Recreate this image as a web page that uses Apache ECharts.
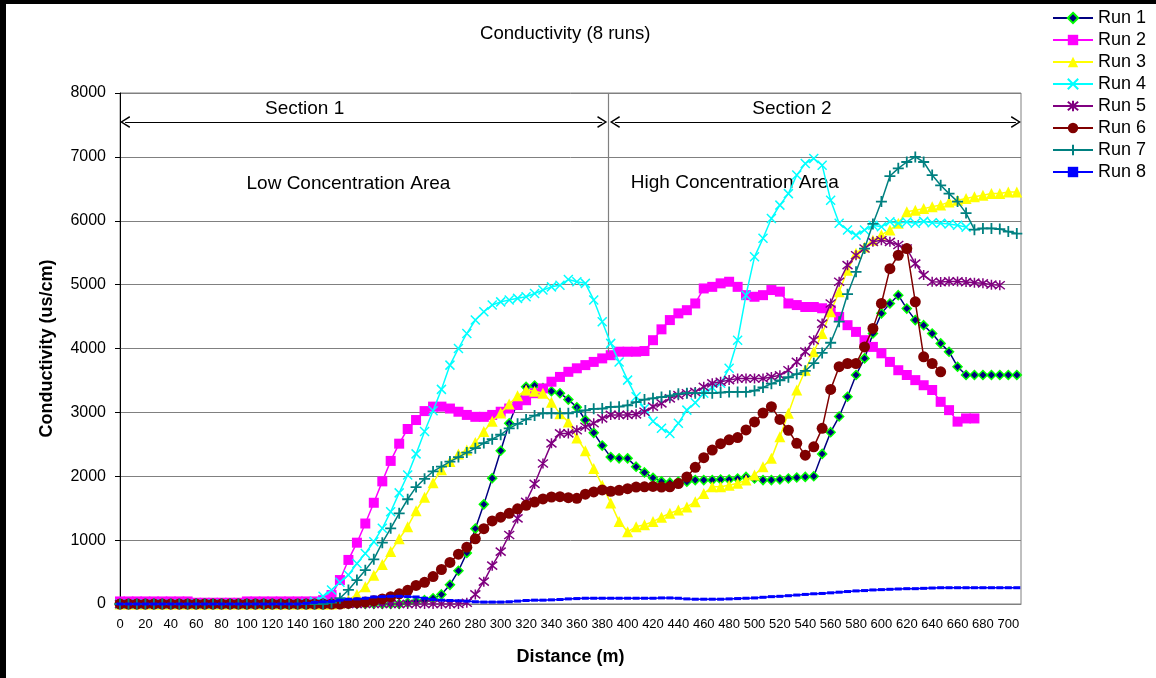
<!DOCTYPE html>
<html>
<head>
<meta charset="utf-8">
<script src="https://cdn.jsdelivr.net/npm/echarts@6/dist/echarts.min.js"></script>
<style>html,body{margin:0;padding:0;background:#fff}#c{width:1156px;height:678px}</style>
</head>
<body>
<div id="c"></div>
<script>
// ---- data ----
const distance = [0,6.7,13.3,20,26.7,33.3,40,46.7,53.3,60,
66.7,73.3,80,86.7,93.3,100,106.7,113.3,120,126.7,
133.3,140,146.7,153.3,160,166.7,173.3,180,186.7,193.3,
200,206.7,213.3,220,226.7,233.3,240,246.7,253.3,260,
266.7,273.3,280,286.7,293.3,300,306.7,313.3,320,326.7,
333.3,340,346.7,353.3,360,366.7,373.3,380,386.7,393.3,
400,406.7,413.3,420,426.7,433.3,440,446.7,453.3,460,
466.7,473.3,480,486.7,493.3,500,506.7,513.3,520,526.7,
533.3,540,546.7,553.3,560,566.7,573.3,580,586.7,593.3,
600,606.7,613.3,620,626.7,633.3,640,646.7,653.3,660,
666.7,673.3,680,686.7,693.3,700,706.7];

const run1 = [0,0,0,0,0,0,0,0,0,0,
0,0,0,0,0,0,0,0,0,0,
0,0,0,0,0,0,0,0,0,0,
0,0,0,0,20,40,60,90,150,300,
520,800,1180,1560,1970,2400,2830,3150,3400,3420,
3380,3330,3300,3200,3080,2880,2680,2480,2300,2280,
2280,2150,2060,1975,1920,1900,1915,1915,1940,1940,
1940,1950,1950,1965,1990,1965,1940,1940,1950,1965,
1980,1990,2000,2350,2690,2935,3245,3585,3845,4235,
4550,4705,4835,4625,4445,4365,4235,4080,3950,3715,
3585,3585,3585,3585,3585,3585,3585];

const run2 = [40,40,40,40,40,40,40,40,40,20,
20,20,20,20,20,40,40,40,40,40,
40,40,40,40,60,140,375,690,960,1260,
1585,1920,2240,2510,2740,2880,3020,3090,3090,3060,
3010,2960,2930,2930,2960,3010,3060,3115,3190,3300,
3375,3480,3555,3635,3690,3740,3790,3845,3895,3950,
3950,3950,3960,4130,4300,4445,4550,4600,4705,4940,
4965,5020,5045,4965,4835,4810,4835,4915,4890,4705,
4680,4650,4650,4630,4600,4495,4365,4260,4130,4025,
3925,3790,3660,3585,3505,3425,3350,3165,3035,2855,
2905,2905,null,null,null,null,null];

const run3 = [0,0,0,0,0,0,0,0,0,0,
0,0,0,0,0,0,0,0,0,0,
0,0,0,0,0,0,10,60,150,270,
450,620,820,1020,1210,1460,1670,1900,2100,2230,
2350,2410,2530,2700,2860,2990,3130,3260,3350,3330,
3300,3160,2980,2850,2600,2400,2120,1860,1580,1290,
1130,1210,1240,1290,1360,1420,1470,1520,1600,1730,
1835,1835,1860,1890,1940,2020,2150,2280,2620,2985,
3350,3660,3950,4235,4575,4890,5225,5490,5590,5695,
5780,5855,5960,6140,6165,6190,6220,6245,6295,6320,
6350,6375,6400,6425,6425,6450,6450];

const run4 = [0,0,0,0,0,0,0,0,0,0,
0,0,0,0,0,0,0,0,0,0,
0,0,10,40,120,220,340,455,635,790,
975,1185,1445,1740,2020,2350,2700,3025,3360,3740,
4000,4235,4445,4575,4680,4730,4760,4785,4810,4860,
4915,4965,4990,5080,5045,5020,4760,4420,4080,3790,
3505,3245,3060,2860,2750,2670,2830,3035,3150,3300,
3390,3455,3690,4130,4835,5435,5725,6035,6245,6425,
6715,6895,6975,6870,6320,5960,5855,5775,5855,5930,
5905,5985,5960,5980,5960,5990,5970,5960,5950,5930,
5900,null,null,null,null,null,null];

const run5 = [0,0,0,0,0,0,0,0,0,0,
0,0,0,0,0,0,0,0,0,0,
0,0,0,0,0,0,0,0,0,0,
0,0,0,0,0,0,0,0,0,0,
0,20,150,350,600,820,1080,1340,1600,1880,
2200,2515,2670,2670,2720,2775,2830,2905,2960,2960,
2960,2970,3010,3090,3140,3220,3270,3300,3320,3400,
3455,3480,3505,3530,3530,3530,3530,3555,3580,3660,
3790,3950,4130,4390,4705,5045,5305,5460,5565,5670,
5695,5670,5620,5565,5330,5150,5045,5040,5050,5050,
5040,5030,5020,5000,4990,null,null];

const run6 = [0,0,0,0,0,0,0,0,0,0,
0,0,0,0,0,0,0,0,0,0,
0,0,0,0,0,0,0,10,20,30,
50,80,115,160,215,290,340,430,540,650,
780,890,1020,1180,1300,1360,1420,1490,1545,1595,
1645,1675,1680,1665,1655,1720,1755,1785,1765,1780,
1805,1830,1835,1840,1830,1835,1885,1990,2140,2290,
2410,2510,2570,2605,2725,2850,2990,3090,2890,2720,
2515,2330,2460,2750,3360,3715,3765,3765,4025,4315,
4705,5250,5460,5565,4730,3870,3765,3635,null,null,
null,null,null,null,null,null,null];

const run7 = [0,0,0,0,0,0,0,0,0,0,
0,0,0,0,0,0,0,0,0,0,
0,0,0,0,0,20,90,220,375,530,
700,960,1185,1420,1640,1830,1960,2075,2150,2230,
2300,2370,2440,2520,2580,2650,2750,2820,2890,2950,
2985,2985,2985,2985,3005,3030,3055,3060,3085,3090,
3110,3160,3200,3220,3240,3260,3290,3300,3300,3300,
3300,3310,3320,3320,3320,3340,3390,3450,3500,3550,
3600,3650,3770,3930,4090,4420,4850,5200,5565,5950,
6300,6700,6820,6920,7000,6920,6715,6555,6425,6300,
6120,5860,5880,5880,5870,5830,5800];

const run8 = [0,0,0,0,0,0,0,0,0,0,
0,0,0,0,0,0,0,0,0,0,
0,0,10,25,35,40,60,75,80,90,
110,115,120,120,115,110,90,70,60,55,
50,45,35,30,30,30,35,45,55,60,
60,65,70,80,85,90,90,90,90,90,
90,90,90,90,95,95,90,80,75,75,
75,75,80,85,90,95,105,115,120,130,
140,150,160,165,175,185,195,205,210,220,
225,230,235,240,240,245,250,255,255,255,
255,255,255,255,255,255,255];

const runNames = ['Run 1','Run 2','Run 3','Run 4','Run 5','Run 6','Run 7','Run 8'];
const titleText = 'Conductivity (8 runs)';
const xName = 'Distance (m)';
const yName = 'Conductivity (us/cm)';
const sectionLabels = ['Section 1','Section 2'];
const areaLabels = ['Low Concentration Area','High Concentration Area'];

// ---- styling / layout ----
const FF = "'Liberation Sans', Arial, Helvetica, sans-serif";
const allRuns = [run1, run2, run3, run4, run5, run6, run7, run8];
const styles = [
  {color:'#000080', symbol:'diamond', size:9, fill:'#000080', border:'#00FF00', bw:1.5},
  {color:'#FF00FF', symbol:'rect', size:10, fill:'#FF00FF', border:'#FF00FF', bw:0},
  {color:'#FFFF00', symbol:'triangle', size:11, fill:'#FFFF00', border:'#FFFF00', bw:0},
  {color:'#00FFFF', symbol:'path://M0,0L10,10M10,0L0,10', size:9, fill:'#00FFFF', border:'#00FFFF', bw:1.5},
  {color:'#800080', symbol:'path://M1,1L9,9M9,1L1,9M5,0L5,10', size:10, fill:'#800080', border:'#800080', bw:1.5},
  {color:'#800000', symbol:'circle', size:11, fill:'#800000', border:'#800000', bw:0},
  {color:'#008080', symbol:'path://M5,0L5,10M0,5L10,5', size:11, fill:'#008080', border:'#008080', bw:1.8},
  {color:'#0000FF', symbol:'rect', size:[7,3], fill:'#0000FF', border:'#0000FF', bw:0}
];
const arrowHead = 'path://M5,0L10,9L8.8,9.6L5,2.4L1.2,9.6L0,9Z';

const series = allRuns.map((vals, i) => {
  const s = styles[i];
  return {
    name: runNames[i],
    type: 'line',
    data: vals.map((v, k) => [distance[k], v]),
    symbol: s.symbol,
    symbolSize: s.size,
    showSymbol: true,
    connectNulls: false,
    lineStyle: {color: s.color, width: 1.5},
    itemStyle: {color: s.fill, borderColor: s.border, borderWidth: s.bw},
    emphasis: {disabled: true},
    silent: true,
    z: 2 + i
  };
});

series[7].markLine = {
  silent: true,
  animation: false,
  symbol: [arrowHead, arrowHead],
  symbolSize: [12, 10],
  label: {show: false},
  lineStyle: {color: '#000', width: 1, type: 'solid'},
  emphasis: {disabled: true},
  data: [
    [{coord: [4, 7545]}, {coord: [380, 7545]}],
    [{coord: [390, 7545]}, {coord: [706, 7545]}],
    [{coord: [385, 3940], symbol: 'none', lineStyle: {color: '#808080', width: 1.2}},
     {coord: [385, 8000], symbol: 'none'}]
  ]
};
const txt = (name, x, y) => ({
  name: name, coord: [x, y], symbol: 'rect', symbolSize: 1,
  itemStyle: {color: 'rgba(0,0,0,0)'},
  label: {show: true, position: 'inside', formatter: '{b}', color: '#000', fontSize: 19, fontFamily: FF}
});
series[7].markPoint = {
  silent: true,
  animation: false,
  data: [
    txt(sectionLabels[0], 145.5, 7760),
    txt(sectionLabels[1], 529.5, 7760),
    txt(areaLabels[0], 180, 6575),
    txt(areaLabels[1], 484.5, 6590)
  ]
};

const chart = echarts.init(document.getElementById('c'), null, {renderer: 'canvas'});
chart.setOption({
  animation: false,
  backgroundColor: '#fff',
  title: {
    text: titleText, left: 480, top: 24, padding: 0,
    textStyle: {fontSize: 18.6, fontWeight: 'normal', color: '#000', fontFamily: FF}
  },
  legend: {
    data: runNames,
    orient: 'vertical',
    left: 1052, top: 8, padding: 0,
    itemWidth: 40, itemHeight: 13, itemGap: 2,
    textStyle: {fontSize: 18, color: '#000', fontFamily: FF, lineHeight: 20},
    selectedMode: false
  },
  grid: {left: 120, right: 135, top: 93, bottom: 74, show: true, borderColor: '#808080', borderWidth: 1},
  xAxis: {
    type: 'value', min: 0, max: 710, interval: 20,
    name: xName, nameLocation: 'middle', nameGap: 44,
    nameTextStyle: {fontSize: 18, fontWeight: 'bold', color: '#000', fontFamily: FF},
    axisLine: {show: true, onZero: false, lineStyle: {color: '#808080', width: 1}},
    axisTick: {show: false},
    axisLabel: {fontSize: 13, color: '#000', margin: 14, fontFamily: FF, showMaxLabel: false},
    splitLine: {show: false}
  },
  yAxis: {
    type: 'value', min: 0, max: 8000, interval: 1000,
    name: yName, nameLocation: 'middle', nameGap: 64,
    nameTextStyle: {fontSize: 18, fontWeight: 'bold', color: '#000', fontFamily: FF},
    axisLine: {show: true, lineStyle: {color: '#000', width: 1}},
    axisTick: {show: true, length: 5, lineStyle: {color: '#000'}},
    axisLabel: {fontSize: 16, color: '#000', margin: 14, fontFamily: FF, formatter: v => String(v)},
    splitLine: {show: true, lineStyle: {color: '#808080', width: 1}}
  },
  graphic: [
    {type: 'rect', shape: {x: 0, y: 0, width: 1156, height: 4}, style: {fill: '#000'}, silent: true},
    {type: 'rect', shape: {x: 0, y: 0, width: 6, height: 678}, style: {fill: '#000'}, silent: true}
  ],
  series: series
});
</script>
</body>
</html>
